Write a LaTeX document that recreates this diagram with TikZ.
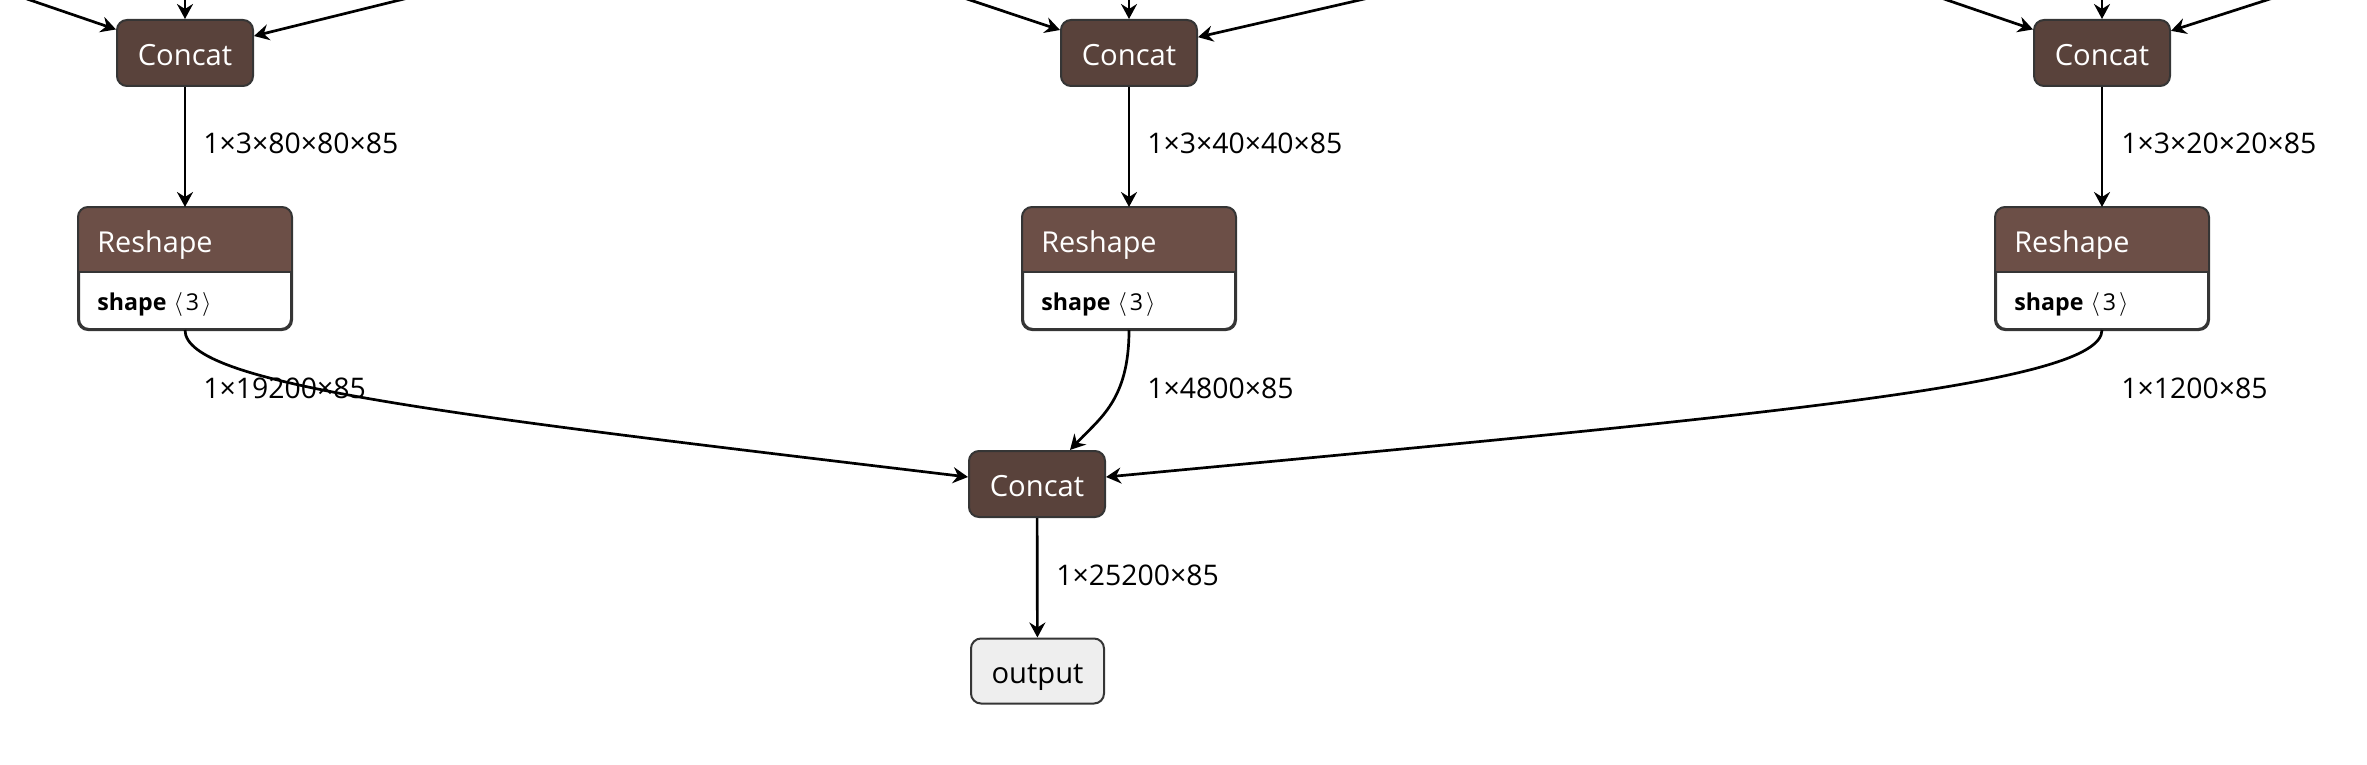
\documentclass[tikz,border=0pt]{standalone}
\usepackage{fontspec}
\setmainfont{Open Sans}
\usetikzlibrary{arrows.meta,calc}
\definecolor{concatc}{HTML}{59423B}
\definecolor{reshapec}{HTML}{6C4F47}
\definecolor{borderc}{HTML}{353535}
\definecolor{outc}{HTML}{EEEEEE}
\tikzset{
  opbox/.style={draw=borderc, line width=1pt, rounded corners=5pt, fill=concatc, text=white,
    font=\fontsize{14.6}{16}\selectfont, text height=12.8pt, text depth=0pt,
    minimum width=68pt, minimum height=33pt, inner sep=0pt},
  outbox/.style={opbox, fill=outc, text=black, minimum width=66.5pt, minimum height=32.5pt},
  edge/.style={line width=1.35pt, -{Stealth[length=7.5pt,width=8pt,inset=2.5pt]}},
  lbl/.style={anchor=base west, inner sep=0pt, font=\fontsize{14.2}{16}\selectfont},
  rsframe/.style={draw=borderc, fill=white, line width=1pt, rounded corners=5pt,
    minimum width=106pt, minimum height=60.5pt, inner sep=0pt},
  rshead/.style={anchor=base west, inner sep=0pt, text=white, font=\fontsize{14.4}{16}\selectfont},
  rsbody/.style={anchor=base west, inner sep=0pt, font=\fontsize{11.6}{13}\selectfont},
}
\begin{document}
\begin{tikzpicture}[x=0.5pt,y=-0.5pt]
\useasboundingbox (0,0) rectangle (2367,765);
% top concats
\node[opbox] (c1) at (185,53) {Concat};
\node[opbox] (c2) at (1129,53) {Concat};
\node[opbox] (c3) at (2102,53) {Concat};
% reshape nodes
\foreach \n/\x in {1/185,2/1129,3/2102}{
  \node[rsframe] (r\n) at (\x,268.5) {};
  \begin{scope}
    \clip[rounded corners=5pt] (r\n.north west) rectangle (r\n.south east);
    \fill[reshapec] (r\n.north west) rectangle ($(r\n.north east)+(0,65)$);
  \end{scope}
  \draw[borderc, line width=1pt] ($(r\n.north west)+(0,65)$) -- ($(r\n.north east)+(0,65)$);
  \draw[borderc, line width=1pt, rounded corners=5pt] (r\n.north west) rectangle (r\n.south east);
  \node[rshead] (rh\n) at ($(r\n.north west)+(19,45)$) {Reshape};
  \node[rsbody] (rb\n) at ($(r\n.north west)+(19,103)$) {\textbf{shape}\hspace{3.5pt}$\langle$\hspace{1.5pt}3\hspace{1.5pt}$\rangle$};
}
% bottom concat and output
\node[opbox] (b) at (1037,484) {Concat};
\node[outbox] (out) at (1037.5,671) {output};
% free ends of incoming edges
\coordinate (tl1) at (-28.5,-20);
\coordinate (tm1) at (185,-20);
\coordinate (tr1) at (481,-20);
\coordinate (tl2) at (910,-20);
\coordinate (tm2) at (1129,-20);
\coordinate (tr2) at (1447,-20);
\coordinate (tl3) at (1888.5,-20);
\coordinate (tm3) at (2102,-20);
\coordinate (tr3) at (2329,-20);
\foreach \n in {1,2,3}{
  \draw[edge] (tl\n) -- (c\n);
  \draw[edge] (tm\n) -- (c\n);
  \draw[edge] (tr\n) -- (c\n);
  \draw[edge] (c\n) -- (r\n);
}
% curves into bottom concat
\draw[edge] (r1.south) .. controls (185,385) and (450,415) .. ($(b.west)+(0,-7)$);
\draw[edge] (r2.south) .. controls (1129,400) and (1100,418) .. ($(b.north)+(33,0)$);
\draw[edge] (r3.south) .. controls (2102,385) and (1765,415) .. ($(b.east)+(0,-7)$);
\draw[edge] (b) -- (out);
% labels
\node[lbl] (l1) at (203,154) {1×3×80×80×85};
\node[lbl] (l2) at (1147,154) {1×3×40×40×85};
\node[lbl] (l3) at (2121,154) {1×3×20×20×85};
\node[lbl] (l4) at (203,398) {1×19200×85};
\node[lbl] (l5) at (1147,398) {1×4800×85};
\node[lbl] (l6) at (2121,398) {1×1200×85};
\node[lbl] (l7) at (1056,585) {1×25200×85};
\end{tikzpicture}
\end{document}
